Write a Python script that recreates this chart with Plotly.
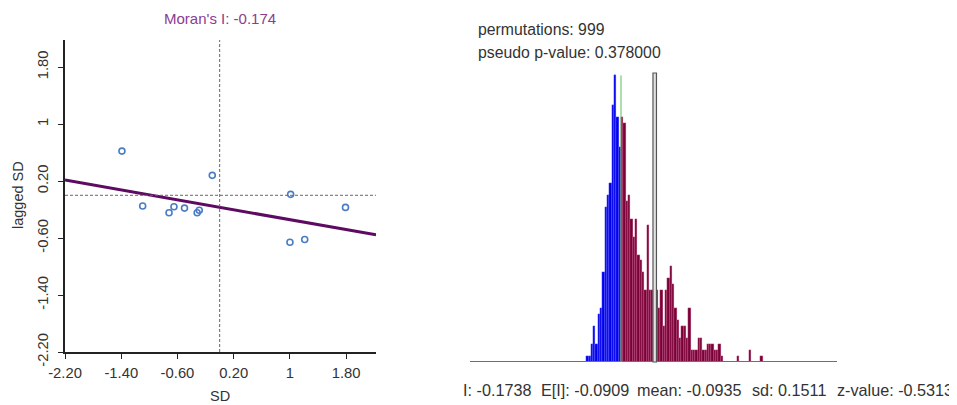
import plotly.graph_objects as go

# ---------------- Moran scatter plot data ----------------
sd_values = [-1.39, -0.105, 1.01, -1.095, -0.72, -0.65, -0.50, -0.32, -0.29, 1.79, 1.00, 1.21]
lagged_sd = [0.62, 0.28, 0.013, -0.15, -0.245, -0.16, -0.18, -0.245, -0.21, -0.17, -0.66, -0.62]
morans_i_slope = -0.174
fit_intercept = -0.169
scatter_x_range = [-2.2, 2.224]
scatter_y_range = [-2.2, 2.18]
axis_ticks = [-2.2, -1.4, -0.6, 0.2, 1.0, 1.8]
axis_tick_labels = ["-2.20", "-1.40", "-0.60", "0.20", "1", "1.80"]

# ---------------- Permutation histogram data ----------------
observed_I = -0.1738
bin_width = 0.01
first_bin_index = -15
perm_counts = [1, 1, 3, 6, 3, 8, 9, 15, 26, 28, 30, 43, 48, 41, 36,
               41, 40, 27, 28, 24, 21, 24, 18, 17, 15, 12, 23, 12, 12, 10, 12, 9, 12, 6, 12,
               14, 16, 13, 9, 7, 4, 6, 6, 4, 9, 2, 2, 2, 4, 4, 2, 2, 3, 3, 3, 2, 2, 3, 1,
               0, 0, 0, 0, 0, 0, 1, 0, 0, 0, 0, 2, 0, 0, 0, 0, 1]
reference_bar_value = -0.0285
hist_x_range = [-0.8247, 0.7572]
stats_labels = ["I: -0.1738", "E[I]: -0.0909", "mean: -0.0935", "sd: 0.1511", "z-value: -0.5313"]
stats_label_x = [461, 539, 635, 750, 835]
perm_text = "permutations: 999"
pval_text = "pseudo p-value: 0.378000"

# window is 957x405; page body has an 8px margin, so the figure is placed at (8, 8)
WIN_W, WIN_H, OFF = 957, 405, 8
W, H = WIN_W - OFF, WIN_H - OFF
FONT = "Liberation Sans, Arial, sans-serif"

def px_x(p):
    return (p - OFF) / W

def px_y(p):
    return (WIN_H - p) / H

fig = go.Figure()

# regression line
line_x = scatter_x_range
line_y = [fit_intercept + morans_i_slope * v for v in line_x]
fig.add_trace(go.Scatter(x=line_x, y=line_y, mode="lines",
                         line=dict(color="#5e0a62", width=3),
                         xaxis="x", yaxis="y", hoverinfo="skip"))
# points
fig.add_trace(go.Scatter(x=sd_values, y=lagged_sd, mode="markers",
                         marker=dict(symbol="circle-open", size=6,
                                     color="#4a7cc4", line=dict(width=1.6)),
                         xaxis="x", yaxis="y"))

# histogram bars
centers = [observed_I + (first_bin_index + i + 0.5) * bin_width for i in range(len(perm_counts))]
fills = ["#0000ee" if c < observed_I else "#7a0036" for c in centers]
edges = ["#8c8cff" if c < observed_I else "#e07aaa" for c in centers]
fig.add_trace(go.Bar(x=centers, y=perm_counts, width=bin_width,
                     marker=dict(color=fills, line=dict(color=edges, width=0.3)),
                     xaxis="x2", yaxis="y2"))

dash_style = dict(color="#666666", width=1, dash="3px,2px")
shapes = [
    dict(type="line", xref="x", yref="y domain", x0=0, x1=0, y0=0, y1=1, line=dash_style),
    dict(type="line", xref="x domain", yref="y", x0=0, x1=1, y0=0, y1=0, line=dash_style),
    dict(type="line", xref="x2 domain", yref="y2", x0=0, x1=1, y0=0, y1=0,
         line=dict(color="#b04a86", width=2)),
    dict(type="line", xref="x2", yref="y2", x0=observed_I, x1=observed_I,
         y0=0, y1=max(perm_counts), line=dict(color="#5cc05c", width=1)),
    dict(type="rect", xref="x2", yref="y2 domain",
         x0=reference_bar_value - 0.0075, x1=reference_bar_value + 0.0075, y0=0, y1=1,
         fillcolor="#e2e2e2", line=dict(color="#555555", width=1.2)),
]

def ann(text, x, y, size, color="#333333", xanchor="left", angle=0):
    return dict(text=text, x=px_x(x), y=px_y(y), xref="paper", yref="paper",
                showarrow=False, xanchor=xanchor, yanchor="middle", textangle=angle,
                font=dict(family=FONT, size=size, color=color))

annotations = [
    ann("Moran's I: -0.174", 220, 18, 15, color="#8b3d8f", xanchor="center"),
    ann("SD", 220, 396, 14.5, xanchor="center"),
    ann("lagged SD", 18, 195, 14.5, xanchor="center", angle=-90),
    ann(perm_text, 476, 30, 15.8),
    ann(pval_text, 476, 52, 15.8),
]
for label, lx in zip(stats_labels, stats_label_x):
    annotations.append(ann(label, lx, 390, 16.2))

axis_common = dict(showline=True, linecolor="#222222", linewidth=1.5, ticks="outside",
                   ticklen=5, tickcolor="#222222", showgrid=False, zeroline=False,
                   tickvals=axis_ticks, ticktext=axis_tick_labels,
                   tickfont=dict(family=FONT, size=14.8, color="#333333"))

fig.update_layout(
    width=W, height=H, margin=dict(l=0, r=0, t=0, b=0, pad=0, autoexpand=False),
    paper_bgcolor="white", plot_bgcolor="white", showlegend=False,
    bargap=0,
    xaxis=dict(domain=[px_x(65), px_x(376)], range=scatter_x_range, anchor="y",
               ticklabelstandoff=1, **axis_common),
    yaxis=dict(domain=[px_y(352), px_y(40)], range=scatter_y_range, anchor="x",
               tickangle=-90, ticklabelstandoff=4, **axis_common),
    xaxis2=dict(domain=[px_x(470), px_x(837)], range=hist_x_range, anchor="y2", visible=False),
    yaxis2=dict(domain=[px_y(362), px_y(73)], range=[0, 48.4], anchor="x2", visible=False),
    shapes=shapes, annotations=annotations,
)

fig.write_html("out.html")
